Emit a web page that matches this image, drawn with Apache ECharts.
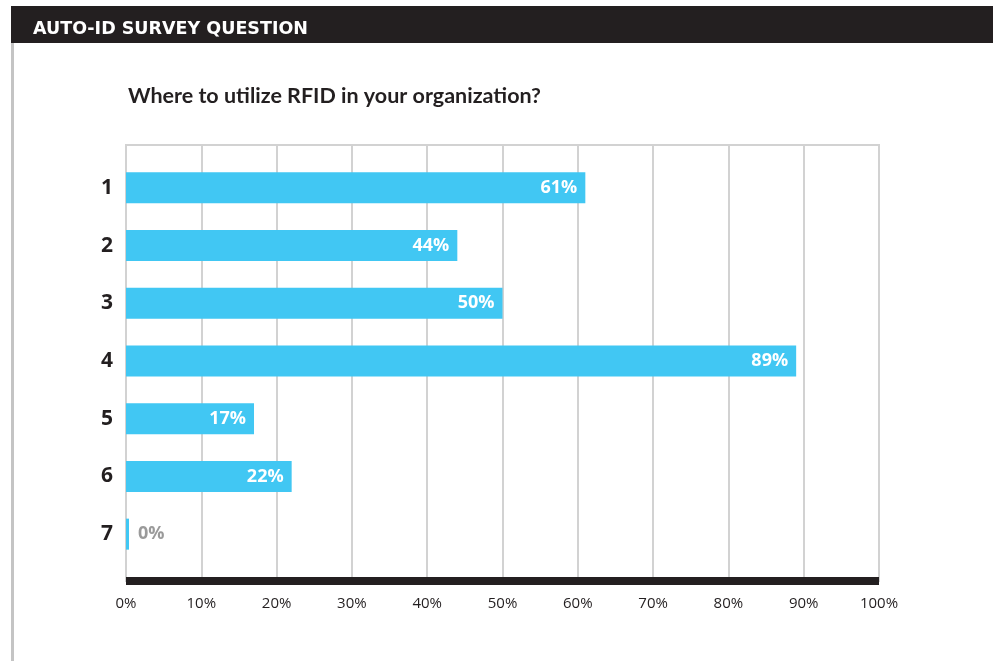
<!DOCTYPE html>
<html>
<head>
<meta charset="utf-8">
<script src="https://cdn.jsdelivr.net/npm/echarts@6/dist/echarts.min.js"></script>
<style>
  html, body { margin: 0; padding: 0; background: #ffffff; }
  #chart { width: 993px; height: 661px; }
</style>
</head>
<body>
<div id="chart"></div>
<script>
// Survey answers: share of respondents per option
const categories = ['1', '2', '3', '4', '5', '6', '7'];
const values = [61, 44, 50, 89, 17, 22, 0];
const tickValues = [0, 10, 20, 30, 40, 50, 60, 70, 80, 90, 100];

const headerText = 'AUTO-ID SURVEY QUESTION';
const titleText = 'Where to utilize RFID in your organization?';

const INK = '#231f20';
const BAR = '#41c7f3';
const GRID_GREY = '#d2d2d2';

const chart = echarts.init(document.getElementById('chart'), null, { renderer: 'canvas' });

const barData = values.map(function (v) {
  if (v === 0) {
    return {
      value: v,
      label: { position: 'right', distance: 9, color: '#9a9a9a' }
    };
  }
  return v;
});

const option = {
  animation: false,
  backgroundColor: '#ffffff',
  title: [
    {
      text: headerText,
      left: 33, top: 20, padding: 0,
      textStyle: { color: '#ffffff', fontFamily: 'DejaVu Sans', fontWeight: 'bold', fontSize: 17.5 }
    },
    {
      text: titleText,
      left: 128, top: 85, padding: 0,
      textStyle: { color: INK, fontFamily: 'Lato', fontWeight: 'bold', fontSize: 21.5 }
    }
  ],
  graphic: [
    { type: 'rect', z: -1, shape: { x: 11, y: 6, width: 982, height: 37 }, style: { fill: INK } },
    { type: 'rect', shape: { x: 11, y: 43, width: 3, height: 618 }, style: { fill: '#c4c4c4' } }
  ],
  grid: [
    { left: 126, right: 114, top: 145, bottom: 80, show: true, borderColor: GRID_GREY, borderWidth: 2, backgroundColor: 'transparent' },
    { left: 126, right: 114, top: 159, bottom: 98 }
  ],
  xAxis: [
    {
      gridIndex: 0, type: 'value', min: 0, max: 100, interval: 10,
      axisLine: { show: true, lineStyle: { color: INK, width: 8, cap: 'butt' } },
      axisTick: { show: false },
      splitLine: { show: true, lineStyle: { color: GRID_GREY, width: 2 } },
      axisLabel: {
        margin: 15, color: INK, fontFamily: 'Open Sans', fontSize: 15,
        formatter: function (v) { return tickValues.indexOf(v) >= 0 ? v + '%' : ''; }
      }
    },
    {
      gridIndex: 1, type: 'value', min: 0, max: 100, show: false
    }
  ],
  yAxis: [
    { gridIndex: 0, type: 'value', show: false },
    {
      gridIndex: 1, type: 'category', data: categories, inverse: true,
      axisLine: { show: false }, axisTick: { show: false }, splitLine: { show: false },
      axisLabel: { margin: 13, color: INK, fontFamily: 'Open Sans', fontWeight: 'bold', fontSize: 21 }
    }
  ],
  series: [
    {
      type: 'bar',
      xAxisIndex: 1, yAxisIndex: 1,
      data: barData,
      barWidth: 31,
      barMinHeight: 3,
      itemStyle: { color: BAR },
      label: {
        show: true, position: 'insideRight', distance: 8,
        color: '#ffffff', fontFamily: 'Open Sans', fontWeight: 'bold', fontSize: 18,
        formatter: '{c}%'
      }
    }
  ]
};

chart.setOption(option);
</script>
</body>
</html>
